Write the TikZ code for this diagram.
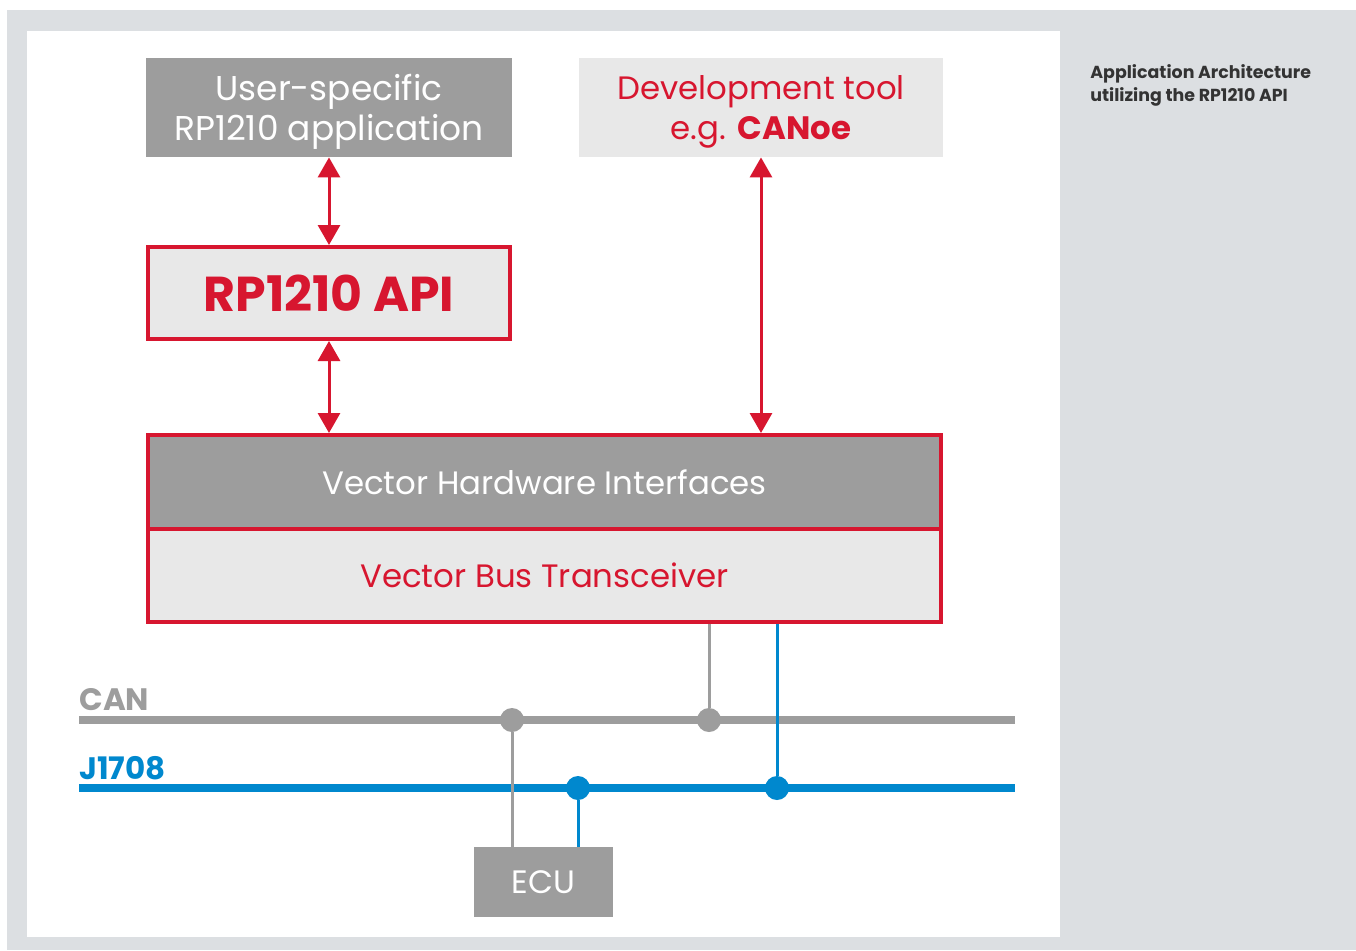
\documentclass[tikz,border=0pt]{standalone}
\usepackage{fontspec}
\setmainfont{Poppins}
\usetikzlibrary{positioning, arrows.meta}
\definecolor{VectorRed}{HTML}{D7162F}
\definecolor{VectorGray}{HTML}{9D9D9D}
\definecolor{VectorLight}{HTML}{E8E8E8}
\definecolor{VectorBlue}{HTML}{0088CE}
\definecolor{PageGray}{HTML}{DCDFE2}
\definecolor{CaptionText}{HTML}{333333}

\begin{document}
\begin{tikzpicture}[x=0.5pt, y=-0.5pt,
            box/.style={rectangle, inner sep=0pt, align=center, font=\fontsize{16.2}{20}\selectfont},
            darkbox/.style={box, fill=VectorGray, text=white},
            lightbox/.style={box, fill=VectorLight, text=VectorRed},
            redbox/.style={box, draw=VectorRed, line width=2pt},
            biarrow/.style={{Triangle[width=11pt,length=10pt]}-{Triangle[width=11pt,length=10pt]}, line width=1.5pt, VectorRed},
            bus/.style={line width=4pt},
            tap/.style={line width=1.5pt},
            dot/.style={circle, inner sep=0pt, minimum size=12pt},
            buslabel/.style={anchor=base west, inner sep=0pt, font=\fontsize{15.5}{18}\selectfont\bfseries}
        ]
            % Page background
            \useasboundingbox (0,0) rectangle (1356,950);
            \fill[PageGray] (7,10) rectangle (1356,950);
            \fill[white] (27,31) rectangle (1060,937);

            % Top row
            \node[darkbox, minimum width=183pt, minimum height=49.5pt, font=\fontsize{17.2}{20}\selectfont] (user) at (329,107.5) {\rule{0pt}{17pt}User-specific\\RP1210 application};
            \node[lightbox, minimum width=182pt, minimum height=49.5pt] (devtool) at (761,107.5) {\rule{0pt}{16.5pt}Development tool\\e.g. \textbf{CANoe}};

            % API layer
            \node[lightbox, redbox, minimum width=181pt, minimum height=46pt, font=\fontsize{24.5}{28}\selectfont\bfseries] (api) at (329,293) {RP1210 API};

            % Hardware stack
            \node[darkbox, redbox, minimum width=396.5pt, minimum height=47pt] (hw) at (544.5,482) {Vector Hardware Interfaces};
            \node[lightbox, redbox, minimum width=396.5pt, minimum height=46.5pt] (trx) at (544.5,575.5) {Vector Bus Transceiver};

            % Arrows
            \draw[biarrow] (user.south) -- (api.north);
            \draw[biarrow] (api.south) -- (api.south |- hw.north);
            \draw[biarrow] (devtool.south) -- (devtool.south |- hw.north);

            % Buses
            \coordinate (canL) at (79,720);
            \coordinate (canR) at (1015,720);
            \coordinate (jL) at (79,788);
            \coordinate (jR) at (1015,788);
            \draw[bus, VectorGray] (canL) -- (canR);
            \draw[bus, VectorBlue] (jL) -- (jR);
            \node[buslabel, text=VectorGray] (canlabel) at (79,710) {CAN};
            \node[buslabel, text=VectorBlue] (jlabel) at (79,779) {J1708};

            % ECU
            \node[darkbox, minimum width=69.5pt, minimum height=35pt] (ecu) at (543.5,882) {ECU};

            % Bus taps
            \node[dot, fill=VectorGray] (hwcan) at (709,720) {};
            \node[dot, fill=VectorBlue] (hwj) at (777,788) {};
            \node[dot, fill=VectorGray] (ecucan) at (512,720) {};
            \node[dot, fill=VectorBlue] (ecuj) at (578,788) {};
            \draw[tap, VectorGray] (hwcan |- trx.south) -- (hwcan);
            \draw[tap, VectorBlue] (hwj |- trx.south) -- (hwj);
            \draw[tap, VectorGray] (ecucan) -- (ecucan |- ecu.north);
            \draw[tap, VectorBlue] (ecuj) -- (ecuj |- ecu.north);

            % Caption
            \node[anchor=north west, align=left, inner sep=0pt, font=\fontsize{8.7}{11.5}\selectfont\bfseries, text=CaptionText] (caption) at (1090,64) {Application Architecture\\utilizing the RP1210 API};
        \end{tikzpicture}
\end{document}
